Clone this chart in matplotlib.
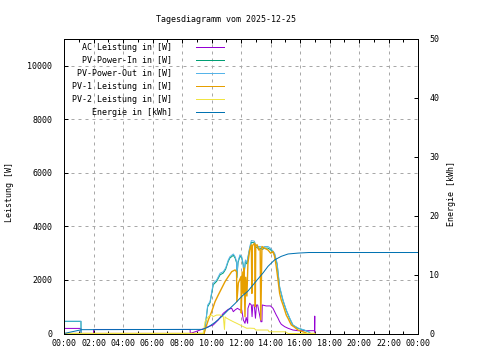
import matplotlib
matplotlib.use("Agg")
import matplotlib.pyplot as plt
from matplotlib.lines import Line2D
from matplotlib.ticker import MultipleLocator, FuncFormatter

# time in hours
t_ac = [0, 1.15, 1.16, 2.0, 2.01, 8.55, 8.56, 9.33, 9.78, 10.12, 10.46, 10.8, 11.14, 11.37,
        11.48, 11.6, 11.76, 11.93, 12.05, 12.16, 12.27, 12.35, 12.45, 12.47, 12.59, 12.7,
        12.75, 12.8, 12.9, 12.98, 13.05, 13.13, 13.35, 13.42, 13.44, 13.7, 14.0, 14.17,
        14.28, 14.39, 14.51, 14.62, 14.73, 14.96, 15.19, 15.52, 15.86, 16.99, 17.0, 17.0]
ac = [190, 190, 0, 0, 150, 150, 0, 150, 255, 320, 505, 755, 905, 940,
      815, 880, 940, 880, 880, 505, 380, 600, 380, 940, 1130, 1065,
      630, 1065, 1065, 570, 1065, 1065, 440, 440, 1065, 1030, 1030, 940,
      815, 690, 570, 440, 345, 255, 195, 130, 105, 105, 650, 0]

t_pv = [0, 1.15, 1.16, 9.5, 9.55, 9.74, 9.9, 10.12, 10.35, 10.58, 10.8, 10.96, 11.14, 11.25,
        11.48, 11.6, 11.7, 11.72, 11.8, 11.93, 12.05, 12.15, 12.2, 12.3, 12.4, 12.47, 12.6,
        12.7, 12.9, 13.0, 13.13, 13.3, 13.45, 13.6, 13.83, 14.0, 14.28, 14.45, 14.62, 14.85,
        15.07, 15.3, 15.52, 15.86, 16.3, 16.6, 16.7, 17.0]
pv_in = [450, 450, 0, 0, 140, 1000, 1150, 1820, 1950, 2190, 2260, 2400, 2700, 2820,
         2920, 2820, 2640, 2080, 2650, 2890, 2820, 2560, 2160, 2700, 2600, 2820, 3190,
         3400, 3390, 3240, 3190, 3190, 3140, 3190, 3190, 3130, 2950, 2580, 1720, 1220,
         860, 560, 310, 195, 120, 60, 0, 0]
pv_out = [460, 460, 0, 0, 160, 1060, 1190, 1880, 2000, 2250, 2310, 2450, 2750, 2870,
          2970, 2870, 2690, 2120, 2700, 2940, 2870, 2600, 2200, 2750, 2650, 2870, 3250,
          3470, 3450, 3300, 3250, 3250, 3200, 3250, 3250, 3185, 3000, 2625, 1750, 1250,
          880, 580, 320, 205, 130, 65, 0, 0]

t_pv1 = [0, 9.5, 9.56, 9.78, 10.01, 10.24, 10.46, 10.69, 10.92, 11.14, 11.37, 11.6, 11.7,
         11.72, 11.82, 12.0, 12.02, 12.08, 12.15, 12.2, 12.27, 12.32, 12.4, 12.47, 12.59,
         12.7, 12.74, 12.77, 12.81, 12.93, 12.97, 13.0, 13.1, 13.2, 13.3, 13.34, 13.42,
         13.6, 13.83, 14.01, 14.17, 14.28, 14.39, 14.51, 14.62, 14.73, 14.85, 14.96, 15.07,
         15.19, 15.3, 15.41, 15.64, 15.86, 16.2, 16.5, 17.0]
pv1 = [0, 0, 130, 500, 815, 1190, 1440, 1690, 1940, 2125, 2310, 2375, 2300,
       1190, 1890, 2125, 765, 2300, 1500, 2450, 630, 2100, 1400, 2625, 3120,
       3310, 1500, 3250, 3310, 3375, 1000, 3300, 3310, 3120, 3150, 505, 3250,
       3185, 3120, 3000, 3060, 2870, 2500, 2000, 1500, 1250, 1065, 880, 690,
       565, 440, 320, 230, 130, 65, 0, 0]

t_pv2 = [0, 9.44, 9.56, 9.78, 10.01, 10.12, 10.35, 10.58, 10.8, 10.88, 10.92, 11.03, 11.25,
         11.48, 11.71, 11.93, 12.16, 12.39, 12.6, 12.9, 13.0, 13.83, 13.9, 15.0, 15.2, 17.0]
pv2 = [0, 0, 440, 630, 690, 630, 690, 690, 630, 150, 620, 570, 505,
       440, 380, 320, 255, 195, 200, 190, 130, 130, 65, 65, 0, 0]

t_en = [0, 1.2, 9.4, 9.78, 10.24, 10.7, 11.14, 11.6, 12.05, 12.47, 13.13, 13.5, 13.83,
        14.28, 14.73, 15.19, 15.86, 16.6, 24]
energie = [0, 0.65, 0.7, 1.1, 1.9, 2.9, 4.0, 5.1, 6.3, 7.2, 9.2, 10.3, 11.4,
           12.5, 13.1, 13.5, 13.65, 13.75, 13.75]

labels = ["AC Leistung in [W]", "PV-Power-In in [W]", "PV-Power-Out in [W]",
          "PV-1 Leistung in [W]", "PV-2 Leistung in [W]", "Energie in [kWh]"]
colors = ["#9400d3", "#009e73", "#56b4e9", "#e69f00", "#f0e442", "#0072b2"]

plt.rcParams["font.family"] = "DejaVu Sans Mono"
plt.rcParams["font.size"] = 6
lw = 0.72

fig = plt.figure(figsize=(4.8, 3.6), dpi=100)
ax = fig.add_axes([64 / 480, 1 - 333.5 / 360, 354 / 480, 294.5 / 360])
ax2 = ax.twinx()

ax.plot(t_ac, ac, color=colors[0], lw=lw)
ax.plot(t_pv, pv_in, color=colors[1], lw=lw)
ax.plot(t_pv, pv_out, color=colors[2], lw=lw)
ax.plot(t_pv1, pv1, color=colors[3], lw=lw * 1.4)
ax.plot(t_pv2, pv2, color=colors[4], lw=lw)
ax2.plot(t_en, energie, color=colors[5], lw=lw)

ax.set_xlim(0, 24)
ax.set_ylim(0, 11000)
ax2.set_ylim(0, 50)

ax.xaxis.set_major_locator(MultipleLocator(2))
ax.xaxis.set_minor_locator(MultipleLocator(1))
ax.xaxis.set_major_formatter(FuncFormatter(lambda v, p: "%02d:00" % (int(round(v)) % 24)))
ax.yaxis.set_major_locator(MultipleLocator(2000))
ax2.yaxis.set_major_locator(MultipleLocator(10))

ax.grid(True, color="#a8a8a8", lw=lw, linestyle=(0, (3, 4)))
ax.set_axisbelow(True)

ax.tick_params(axis="x", which="major", direction="in", length=3, width=lw, top=True, pad=4)
ax.tick_params(axis="x", which="minor", direction="in", length=2, width=lw, top=True)
ax.tick_params(axis="y", direction="in", length=3, width=lw, right=False, pad=8.3)
ax2.tick_params(axis="y", direction="in", length=3, width=lw, pad=8)
for a in (ax, ax2):
    for s in a.spines.values():
        s.set_linewidth(lw)

fig.text(226 / 480, 1 - 19 / 360, "Tagesdiagramm vom 2025-12-25", ha="center", va="center")
fig.text(10 / 480, 1 - 192 / 360, "Leistung [W]", rotation=90, ha="center", va="center")
fig.text(452 / 480, 1 - 193 / 360, "Energie [kWh]", rotation=90, ha="center", va="center")

# legend drawn gnuplot style: right aligned text, sample line on the right
for i, (lab, c) in enumerate(zip(labels, colors)):
    y = 1 - (47 + i * 13.05) / 360
    fig.text(172 / 480, y, lab, ha="right", va="center")
    fig.add_artist(Line2D([196 / 480, 224 / 480], [y, y], color=c, lw=lw,
                          transform=fig.transFigure))

fig.savefig("out.png", dpi=100)
